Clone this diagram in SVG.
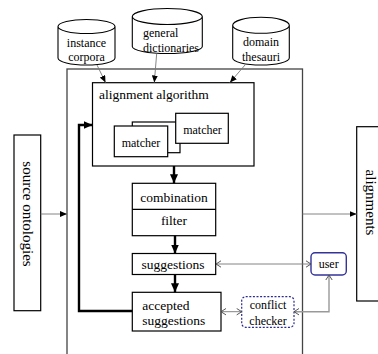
<svg xmlns="http://www.w3.org/2000/svg" width="378" height="354" viewBox="0 0 378 354" font-family="'Liberation Serif', 'DejaVu Serif', serif">
<style>
text{font-family:'Liberation Serif','DejaVu Serif',serif;fill:#000}
.t13{font-size:13.5px}
.t12{font-size:12px}
.t15{font-size:15px}
.box{fill:#fff;stroke:#000;stroke-width:1.2}
.outer{fill:none;stroke:#444;stroke-width:1.3}
.cyl{fill:#fff;stroke:#000;stroke-width:1.1}
.thin{fill:none;stroke:#777;stroke-width:0.9}
.thick{fill:none;stroke:#000;stroke-width:2.4}
.dbl{fill:none;stroke:#777;stroke-width:0.9}
.dbl2{fill:none;stroke:#999;stroke-width:1.4}
</style>
<defs>
<marker id="ah" markerUnits="userSpaceOnUse" markerWidth="7" markerHeight="6" refX="7" refY="3" orient="auto">
<path d="M0,0 L7,3 L0,6 z" fill="#000"/>
</marker>
<marker id="ahk" markerUnits="userSpaceOnUse" markerWidth="9" markerHeight="8" refX="9" refY="4" orient="auto">
<path d="M0,0 L9,4 L0,8 z" fill="#000"/>
</marker>
<marker id="av" markerUnits="userSpaceOnUse" markerWidth="7" markerHeight="8" refX="6" refY="4" orient="auto-start-reverse">
<path d="M1,0.8 L6,4 L1,7.2" fill="none" stroke="#444" stroke-width="0.9"/>
</marker>
</defs>

<g id="framework">
<rect class="outer" x="67" y="69" width="235.5" height="300"/>
</g>

<g id="instance-corpora">
<path class="cyl" d="M58,26.5 V58 A28.5,7 0 0 0 115,58 V26.5 A28.5,7 0 0 0 58,26.5 A28.5,7 0 0 0 115,26.5"/>
<text class="t12" x="86.5" y="47" text-anchor="middle">instance</text>
<text class="t12" x="86.5" y="60.5" text-anchor="middle">corpora</text>
</g>

<g id="general-dictionaries">
<path class="cyl" d="M132.3,16.5 V46.5 A35,7 0 0 0 202.3,46.5 V16.5 A35,8 0 0 0 132.3,16.5 A35,8 0 0 0 202.3,16.5"/>
<text class="t12" x="143" y="36.5">general</text>
<text class="t12" x="143" y="51.5">dictionaries</text>
</g>

<g id="domain-thesauri">
<path class="cyl" d="M232.7,25.3 V58 A28.3,7 0 0 0 289.3,58 V25.3 A28.3,8 0 0 0 232.7,25.3 A28.3,8 0 0 0 289.3,25.3"/>
<text class="t12" x="261" y="46" text-anchor="middle">domain</text>
<text class="t12" x="261" y="60.5" text-anchor="middle">thesauri</text>
</g>

<g id="alignment-algorithm">
<rect class="box" x="92.5" y="82.7" width="161.5" height="83.3"/>
<text class="t13" x="99" y="98.5">alignment algorithm</text>
</g>

<g id="matcher-middle">
<rect class="box" x="132.3" y="122" width="47.7" height="30.7"/>
</g>
<g id="matcher-back">
<rect class="box" x="175.7" y="113.3" width="52.6" height="30"/>
<text class="t12" x="202.5" y="134" text-anchor="middle">matcher</text>
</g>
<g id="matcher-front">
<rect class="box" x="114.3" y="126" width="53.4" height="30.7"/>
<text class="t12" x="141" y="147" text-anchor="middle">matcher</text>
</g>

<g id="combination-filter">
<rect class="box" x="132.3" y="183.3" width="83.4" height="52.4"/>
<line x1="132.3" y1="209.3" x2="215.7" y2="209.3" stroke="#000" stroke-width="1.2"/>
<text class="t13" x="174" y="201.5" text-anchor="middle">combination</text>
<text class="t13" x="174" y="224.5" text-anchor="middle">filter</text>
</g>

<g id="suggestions">
<rect class="box" x="132.3" y="253.5" width="83.4" height="21"/>
<text class="t13" x="173" y="268.5" text-anchor="middle">suggestions</text>
</g>

<g id="accepted-suggestions">
<rect class="box" x="132.3" y="292.3" width="88.7" height="38.7"/>
<text class="t13" x="142.3" y="309.5">accepted</text>
<text class="t13" x="142.3" y="325">suggestions</text>
</g>

<g id="conflict-checker">
<rect x="241.7" y="296.7" width="52.3" height="30.6" rx="4" fill="#fff" stroke="#2b2b8f" stroke-width="1.2" stroke-dasharray="2,1.6"/>
<text class="t12" x="268" y="309" text-anchor="middle">conflict</text>
<text class="t12" x="268" y="324.5" text-anchor="middle">checker</text>
</g>

<g id="user">
<rect x="311" y="252.7" width="35.3" height="22.3" rx="4" fill="#fff" stroke="#33339a" stroke-width="1.4"/>
<text class="t12" x="328.7" y="268" text-anchor="middle">user</text>
</g>

<g id="source-ontologies">
<rect class="box" x="14" y="135" width="26.7" height="175.7"/>
<text class="t15" transform="translate(22.5,214) rotate(90)" text-anchor="middle">source ontologies</text>
</g>

<g id="alignments">
<rect class="box" x="356.7" y="126.7" width="40" height="174.3"/>
<text class="t15" transform="translate(366,202.5) rotate(90)" text-anchor="middle">alignments</text>
</g>

<g id="connectors">
<line class="thin" x1="97" y1="65" x2="105.5" y2="82.5" marker-end="url(#ah)"/>
<line class="thin" x1="156.7" y1="53.5" x2="154.3" y2="82.5" marker-end="url(#ah)"/>
<line class="thin" x1="245" y1="65" x2="230" y2="82.5" marker-end="url(#ah)"/>
<line class="thin" x1="40.7" y1="214" x2="67" y2="214" marker-end="url(#ah)"/>
<line class="thin" x1="302.5" y1="214" x2="356.7" y2="214" marker-end="url(#ah)"/>
<line class="thick" x1="174" y1="166" x2="174" y2="183.3" marker-end="url(#ahk)"/>
<line class="thick" x1="175" y1="235.7" x2="175" y2="253.5" marker-end="url(#ahk)"/>
<line class="thick" x1="175" y1="274.5" x2="175" y2="292.3" marker-end="url(#ahk)"/>
<path class="thick" d="M132.3,311 H79 V125 H92.5" marker-end="url(#ahk)"/>
<line class="dbl" x1="216" y1="264" x2="311" y2="264" marker-start="url(#av)" marker-end="url(#av)"/>
<line class="dbl" x1="221" y1="311.7" x2="241.7" y2="311.7" marker-start="url(#av)" marker-end="url(#av)"/>
<path class="dbl2" d="M294,311.7 H329 V275" marker-start="url(#av)" marker-end="url(#av)"/>
</g>
</svg>
